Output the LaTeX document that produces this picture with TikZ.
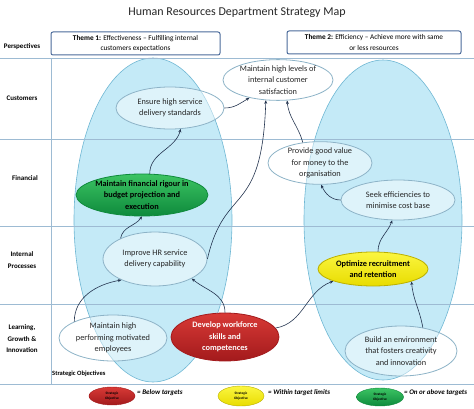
\documentclass[tikz,border=0pt]{standalone}
\usepackage{fontspec}
\setmainfont{Carlito}
\usetikzlibrary{shapes.geometric,arrows.meta}
\definecolor{bigfill}{HTML}{BAE6F6}
\definecolor{bigline}{HTML}{6FB7D3}
\definecolor{nodeline}{HTML}{8DB3C7}
\definecolor{gridc}{HTML}{9DBBD3}
\definecolor{arrc}{HTML}{24344F}
\definecolor{boxline}{HTML}{4A6A9A}
\definecolor{gtop}{HTML}{3CC463}
\definecolor{gbot}{HTML}{0E8A3C}
\definecolor{rtop}{HTML}{D83A36}
\definecolor{rbot}{HTML}{A31A1C}
\definecolor{ytop}{HTML}{FBF640}
\definecolor{ybot}{HTML}{E8DC00}
\tikzset{
  gridline/.style={draw=gridc, line width=0.6pt},
  bigell/.style={ellipse, draw=bigline, line width=0.6pt, fill=bigfill, fill opacity=0.85},
  obj/.style={ellipse, draw=nodeline, line width=0.8pt, fill=white, fill opacity=0.45, text opacity=1,
    inner sep=0pt, align=center, font=\fontsize{8.3}{11.5}\selectfont, text=black!85},
  objg/.style={obj, draw=gbot, top color=gtop, bottom color=gbot, fill opacity=1, font=\fontsize{8.3}{11.5}\selectfont\bfseries, text=black},
  objr/.style={obj, draw=rbot, top color=rtop, bottom color=rbot, fill opacity=1, font=\fontsize{8.3}{11.5}\selectfont\bfseries, text=white},
  objy/.style={obj, draw=ybot!80!black, top color=ytop, bottom color=ybot, fill opacity=1, font=\fontsize{8.3}{11.5}\selectfont\bfseries, text=black},
  rowlbl/.style={font=\fontsize{7}{11.5}\selectfont\bfseries, align=center},
  themebox/.style={draw=boxline, line width=1pt, rounded corners=2pt, fill=white, align=center, font=\fontsize{7.3}{10.5}\selectfont, inner sep=0pt},
  conn/.style={draw=arrc, line width=0.6pt, -{Stealth[length=3.5pt,width=3pt]}},
  leg/.style={ellipse, inner sep=0pt, align=center, font=\fontsize{3.5}{4.5}\selectfont\bfseries},
  legtxt/.style={anchor=west, font=\fontsize{7}{8}\selectfont\bfseries\itshape, inner sep=0pt}
}
\begin{document}
\begin{tikzpicture}[x=1pt,y=1pt]
\useasboundingbox (0,0) rectangle (474,408);
% title
\node[font=\fontsize{12}{14}\selectfont, text=black!85] (title) at (237,395) {Human Resources Department Strategy Map};
% big ellipses
\node[bigell, minimum width=158pt, minimum height=324pt] (bigL) at (153,188) {};
\node[bigell, minimum width=158pt, minimum height=320pt] (bigR) at (383,188) {};
% grid
\coordinate (g1a) at (0,350); \coordinate (g1b) at (474,350);
\coordinate (g2a) at (0,269); \coordinate (g2b) at (474,269);
\coordinate (g3a) at (0,182); \coordinate (g3b) at (474,182);
\coordinate (g4a) at (0,104); \coordinate (g4b) at (474,104);
\coordinate (g5a) at (0,24);  \coordinate (g5b) at (474,24);
\coordinate (v1a) at (51,350); \coordinate (v1b) at (51,24);
\draw[gridline] (g1a) -- (g1b);
\draw[gridline] (g2a) -- (g2b);
\draw[gridline] (g3a) -- (g3b);
\draw[gridline] (g4a) -- (g4b);
\draw[gridline] (g5a) -- (g5b);
\draw[gridline] (v1a) -- (v1b);
% row labels
\node[rowlbl] (pers) at (22,361) {Perspectives};
\node[rowlbl] (cust) at (22,310) {Customers};
\node[rowlbl] (fin) at (25,230) {Financial};
\node[rowlbl] (intp) at (22,148) {Internal\\Processes};
\node[rowlbl] (learn) at (22,69) {Learning,\\Growth \&\\Innovation};
% theme boxes
\node[themebox, minimum width=169pt, minimum height=23pt] (th1) at (135.5,364.5) {\textbf{Theme 1:} Effectiveness -- Fulfilling internal\\customers expectations};
\node[themebox, minimum width=174pt, minimum height=23pt] (th2) at (374,365.5) {\textbf{Theme 2:} Efficiency -- Achieve more with same\\or less resources};
% objectives
\node[obj, minimum width=110pt, minimum height=36pt] (sat) at (278,328) {Maintain high levels of\\internal customer\\satisfaction};
\node[obj, minimum width=108pt, minimum height=42pt] (ensure) at (170,300) {Ensure high service\\delivery standards};
\node[objg, minimum width=130pt, minimum height=42pt] (finance) at (142,213) {Maintain financial rigour in\\budget projection and\\execution};
\node[obj, minimum width=104pt, minimum height=40pt] (value) at (320,245) {Provide good value\\for money to the\\organisation};
\node[obj, minimum width=114pt, minimum height=40pt] (seek) at (398,208) {Seek efficiencies to\\minimise cost base};
\node[obj, minimum width=104pt, minimum height=54pt] (improve) at (155,149) {Improve HR service\\delivery capability};
\node[objy, minimum width=110pt, minimum height=34pt] (optimize) at (373,139) {Optimize recruitment\\and retention};
\node[obj, minimum width=108pt, minimum height=46pt] (perform) at (113,70) {Maintain high\\performing motivated\\employees};
\node[objr, minimum width=108pt, minimum height=48pt] (develop) at (225,71) {Develop workforce\\skills and\\competences};
\node[obj, minimum width=112pt, minimum height=50pt] (build) at (401,57) {Build an environment\\that fosters creativity\\and innovation};
% connectors
\draw[conn] (ensure.east) to[out=0, in=210] (sat.212);
\draw[conn] (improve.east) .. controls (225,225) and (262,190) .. (sat.239);
\draw[conn] (value.130) to[out=105, in=275] (sat.294);
\draw[conn] (seek.west) to[out=180, in=295] (value.273);
\draw[conn] (optimize.74) to[out=90, in=250] (seek.254);
\draw[conn] (finance.70) to[out=90, in=255] (ensure.297);
\draw[conn] (improve.149) to[out=80, in=235] (finance.270);
\draw[conn] (perform.157) to[out=90, in=190] (improve.212);
\draw[conn] (develop.north) to[out=90, in=320] (improve.332);
\draw[conn] (develop.10) to[out=10, in=200] (optimize.197);
\draw[conn] (build.47) to[out=100, in=275] (optimize.342);
% strategic objectives label
\node[anchor=west, font=\fontsize{6.5}{8}\selectfont\bfseries, inner sep=0pt] (so) at (52,34) {Strategic Objectives};
% legend
\node[leg, draw=rbot, top color=rtop, bottom color=rbot, minimum width=46pt, minimum height=18pt] (lr) at (112,12) {Strategic\\Objective};
\node[legtxt] (lrt) at (137,15) {= Below targets};
\node[leg, draw=ybot!80!black, top color=ytop, bottom color=ybot, minimum width=46pt, minimum height=20pt] (ly) at (241,12) {Strategic\\Objective};
\node[legtxt] (lyt) at (268,15) {= Within target limits};
\node[leg, draw=gbot, top color=gtop, bottom color=gbot, minimum width=47pt, minimum height=18pt] (lg) at (380,11) {Strategic\\Objective};
\node[legtxt] (lgt) at (404,15) {= On or above targets};
\end{tikzpicture}
\end{document}
